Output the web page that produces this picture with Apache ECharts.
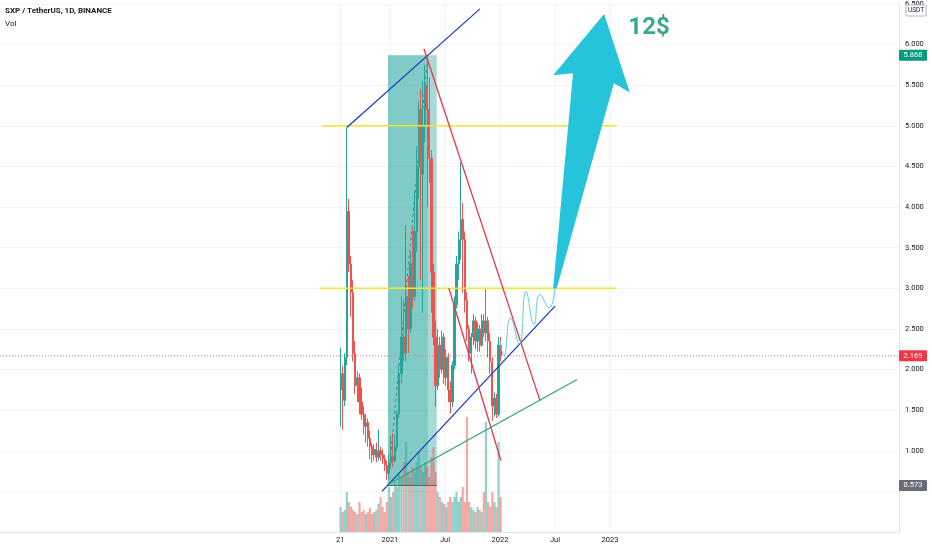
<!DOCTYPE html>
<html><head><meta charset="utf-8">
<script src="https://cdn.jsdelivr.net/npm/echarts@6/dist/echarts.min.js"></script>
<style>html,body{margin:0;padding:0;background:#fff}#c{width:932px;height:550px}</style>
</head><body><div id="c"></div>
<script>
// ---- data (weekly sampling) ----
const weekStart = '2020-07-20';
const opens  = [1.75,1.95,1.62,2.15,3.95,3.30,2.95,2.20,1.80,1.90,1.60,1.45,1.30,1.35,1.15,1.05,0.95,1.02,0.92,1.00,0.95,0.90,0.82,0.72,0.85,0.93,0.88,1.05,1.45,1.95,2.40,2.20,2.90,2.50,3.30,2.90,3.70,4.50,5.20,4.40,5.00,5.50,5.20,4.60,3.20,2.40,1.80,2.30,2.00,2.40,1.90,2.15,1.75,1.60,2.05,2.80,3.30,3.60,3.85,3.60,2.85,2.50,2.20,2.40,2.60,2.35,2.50,2.30,2.60,2.45,2.60,2.35,2.10,1.55,1.65,1.45,2.30];
const closes = [1.95,1.62,2.15,3.95,3.30,2.95,2.20,1.80,1.90,1.60,1.45,1.30,1.35,1.15,1.05,0.95,1.02,0.92,1.00,0.95,0.90,0.82,0.72,0.85,0.93,0.88,1.05,1.45,1.95,2.40,2.20,2.90,2.50,3.30,2.90,3.70,4.50,5.20,4.40,5.00,5.50,5.20,4.60,3.20,2.40,1.80,2.30,2.00,2.40,1.90,2.15,1.75,1.60,2.05,2.80,3.30,3.60,3.85,3.60,2.85,2.50,2.20,2.40,2.60,2.35,2.50,2.30,2.60,2.45,2.60,2.35,2.10,1.55,1.65,1.45,2.30,2.169];
const lows   = [1.30,1.26,1.55,2.05,3.20,2.65,2.10,1.70,1.60,1.45,1.38,1.20,1.10,1.05,0.90,0.85,0.88,0.86,0.88,0.88,0.84,0.75,0.64,0.66,0.78,0.80,0.85,1.00,1.40,1.83,2.10,2.10,2.20,2.45,2.75,2.85,3.45,4.10,3.10,2.70,4.80,4.00,4.30,2.70,2.30,1.54,1.75,1.90,1.95,1.82,1.80,1.60,1.46,1.54,2.00,2.75,3.10,3.35,2.95,2.70,2.35,2.10,1.95,2.30,2.25,2.22,2.22,2.28,2.40,2.35,2.15,1.95,1.37,1.42,1.40,1.42,2.10];
const highs  = [2.27,2.05,2.20,4.98,4.10,3.40,3.10,2.35,1.98,1.95,1.78,1.55,1.45,1.40,1.25,1.10,1.08,1.10,1.26,1.05,1.02,0.95,0.88,0.95,1.18,1.22,1.20,1.50,2.05,2.90,2.85,3.78,3.15,3.45,3.75,4.20,4.75,5.30,5.45,5.55,5.75,5.868,5.60,4.70,3.30,2.60,2.50,2.40,2.48,2.45,2.25,2.20,1.85,2.10,2.90,3.40,3.70,4.55,4.05,3.70,2.95,2.55,2.45,2.68,2.65,2.58,2.55,2.68,2.68,3.00,2.65,2.45,2.15,1.72,1.70,2.40,2.40];
const volumes = [25,20,22,40,30,25,22,20,18,30,20,22,18,20,24,18,20,22,28,35,25,20,30,45,35,40,50,45,60,55,70,90,60,55,65,60,70,80,65,60,70,65,55,75,85,60,40,35,30,28,25,30,35,30,35,40,30,35,45,30,115,30,25,22,20,25,22,20,40,110,30,25,40,30,25,90,35];
const lastPrice = 2.169;
const rangeLow = 0.573, rangeHigh = 5.868;
const timeTicks = [['2020-07-19','21'],['2021-01-01','2021'],['2021-07-01','Jul'],['2022-01-01','2022'],['2022-07-01','Jul'],['2023-01-01','2023']];

// drawings (date, price)
const blueTop   = [['2020-08-10',4.98],['2021-10-26',6.44]];
const yellow5   = [['2020-05-18',5.0],['2023-01-24',5.0]];
const yellow3   = [['2020-05-12',3.0],['2023-01-24',3.0]];
const redLong   = [['2021-04-22',5.95],['2022-05-12',1.62]];
const redShort  = [['2021-07-14',3.0],['2022-01-04',0.88]];
const blueLow   = [['2020-12-05',0.50],['2022-07-01',2.78]];
const greenLine = [['2020-12-25',0.585],['2022-09-13',1.878]];
const wave = [['2022-01-01',2.354],['2022-01-14',2.171],['2022-02-05',2.638],['2022-03-04',2.313],['2022-03-27',2.963],['2022-04-22',2.557],['2022-05-12',2.923],['2022-06-12',2.760],['2022-07-01',3.004]];
const arrow = [['2022-06-25',3.0],['2022-08-31',5.646],['2022-06-25',5.622],['2022-12-12',6.378],['2023-03-06',5.411],['2023-01-14',5.524],['2022-07-07',3.0]];
const rangeStart = '2020-12-25', rangeMid = '2021-05-05', rangeEnd = '2021-06-04';
const targetText = ['2023-05-09', 6.207, '12$'];

// ---- helpers ----
const MS = 86400000;
function toM(s){const d=new Date(s+'T00:00:00Z');const y=d.getUTCFullYear(),mo=d.getUTCMonth(),day=d.getUTCDate();const dim=new Date(Date.UTC(y,mo+1,0)).getUTCDate();return (y-2020)*12+mo+(day-1)/dim;}
function ymd(t){return new Date(t).toISOString().slice(0,10);}
const dates = opens.map((_,k)=>ymd(Date.parse(weekStart+'T00:00:00Z')+k*7*MS));
const candleData = dates.map((d,k)=>[toM(d),opens[k],closes[k],lows[k],highs[k]]);
const volData = dates.map((d,k)=>({value:[toM(d),volumes[k]],itemStyle:{color:closes[k]>=opens[k]?'rgba(38,166,154,0.5)':'rgba(239,83,80,0.5)'}}));
const pts = a=>a.map(p=>[toM(p[0]),p[1]]);
function seg(data,color,width,extra){return Object.assign({type:'line',data,symbol:'none',silent:true,lineStyle:{color,width},z:4,clip:false},extra||{});}
const tickM = timeTicks.map(t=>toM(t[0]));
function timeLabel(v){for(const t of timeTicks){if(Math.abs(toM(t[0])-v)<0.01)return t[1];}return '';}
const rects = [
  [toM(rangeStart),rangeLow,toM(rangeEnd),rangeHigh,'rgba(38,166,154,0.40)'],
  [toM(rangeStart),rangeLow,toM(rangeMid),rangeHigh,'rgba(38,166,154,0.30)']
];

const X_MIN=-30.55, X_MAX=67.53;
const FONT='Roboto';
const chart = echarts.init(document.getElementById('c'));
const option = {
  animation:false,
  backgroundColor:'#ffffff',
  grid:[{left:0,right:33,top:0,bottom:18},{left:0,right:33,bottom:18,height:120}],
  xAxis:[
    {type:'value',gridIndex:0,min:X_MIN,max:X_MAX,axisLine:{show:true,onZero:false,lineStyle:{color:'#e0e3eb'}},axisTick:{show:false},splitLine:{show:false},
     axisLabel:{customValues:tickM,formatter:timeLabel,color:'#131722',fontSize:7.5,margin:4,fontFamily:FONT}},
    {type:'value',gridIndex:1,min:X_MIN,max:X_MAX,show:false}
  ],
  yAxis:[
    {type:'value',gridIndex:0,position:'right',min:0,max:6.5,interval:0.5,axisLine:{show:true,onZero:false,lineStyle:{color:'#e0e3eb'}},axisTick:{show:false},
     splitLine:{show:true,lineStyle:{color:'#f0f3fa'}},
     axisLabel:{formatter:v=>v<0.75?'':v.toFixed(3),color:'#131722',fontSize:7.5,margin:6,fontFamily:FONT}},
    {type:'value',gridIndex:1,min:0,max:120,show:false}
  ],
  series:[
    {type:'custom',silent:true,z:1,data:rects.map((r,i)=>i),clip:false,
     renderItem:(params,api)=>{const r=rects[params.dataIndex];const a=api.coord([r[0],r[3]]),b=api.coord([r[2],r[1]]);
       return {type:'rect',shape:{x:a[0],y:a[1],width:b[0]-a[0],height:b[1]-a[1]},style:{fill:r[4]}};}},
    {type:'custom',silent:true,z:0,data:tickM,
     renderItem:(params,api)=>{const p=api.coord([tickM[params.dataIndex],0]);const t=api.coord([tickM[params.dataIndex],6.5]);
       return {type:'line',shape:{x1:p[0],y1:p[1],x2:t[0],y2:t[1]},style:{stroke:'#eef0f5',lineWidth:1}};}},
    {type:'bar',xAxisIndex:1,yAxisIndex:1,data:volData,barWidth:2.2,silent:true,z:2},
    {type:'candlestick',data:candleData,encode:{x:0,y:[1,2,3,4]},barWidth:1.7,silent:true,z:3,
     itemStyle:{color:'#26a69a',color0:'#ef5350',borderColor:'#26a69a',borderColor0:'#ef5350',borderWidth:1}},
    seg([[X_MIN,lastPrice],[X_MAX,lastPrice]],'#f23645',1,{z:2,lineStyle:{color:'#f4737f',width:1,type:[1,2]}}),
    seg(pts([[rangeStart,rangeLow],[rangeEnd,rangeLow]]),'#5d606b',1,{z:3}),
    seg(pts([[rangeStart,rangeLow],[rangeMid,rangeHigh]]),'#5d606b',1,{z:3,lineStyle:{color:'#5d606b',width:1,type:[3,3],opacity:0.8}}),
    seg(pts(yellow5),'#f5e52b',1.5),
    seg(pts(yellow3),'#f5e52b',1.5),
    seg(pts(blueTop),'#1c3fc4',1.3),
    seg(pts(blueLow),'#1c3fc4',1.3),
    seg(pts(redLong),'#e8364a',1.3),
    seg(pts(redShort),'#e8364a',1.3),
    seg(pts(greenLine),'#2ea67e',1.3),
    seg(pts(wave),'#5ccfdf',1,{smooth:0.5}),
    {type:'custom',silent:true,z:6,data:[0],clip:false,
     renderItem:(params,api)=>({type:'polygon',shape:{points:arrow.map(p=>api.coord([toM(p[0]),p[1]]))},style:{fill:'#26c4da'}})},
    {type:'scatter',silent:true,z:7,symbolSize:0,data:[[toM(targetText[0]),targetText[1]]],
     label:{show:true,position:'inside',formatter:targetText[2],color:'#07916f',fontSize:24,fontWeight:'bold',fontFamily:FONT}}
  ]
};
chart.setOption(option);

function axisBox(price,bg,text){
  const y=chart.convertToPixel({yAxisIndex:0},price);
  return [
    {type:'rect',z:100,shape:{x:899,y:y-5.5,width:28,height:11,r:1},style:{fill:bg}},
    {type:'text',z:101,style:{x:913,y:y,text:text,fill:'#ffffff',font:'7.5px '+FONT,align:'center',verticalAlign:'middle'}}
  ];
}
const g = [].concat(
  axisBox(rangeHigh,'#089981',rangeHigh.toFixed(3)),
  axisBox(lastPrice,'#f23645',lastPrice.toFixed(3)),
  axisBox(rangeLow,'#6a6d78',rangeLow.toFixed(3)),
  [
    {type:'rect',z:100,shape:{x:906,y:5,width:20,height:11,r:1},style:{fill:'#ffffff',stroke:'#b2b5be',lineWidth:1}},
    {type:'text',z:101,style:{x:916,y:10.5,text:'USDT',fill:'#131722',font:'6.5px '+FONT,align:'center',verticalAlign:'middle'}},
    {type:'text',z:101,style:{x:5,y:11,text:'SXP / TetherUS, 1D, BINANCE',fill:'#131722',font:'bold 8px '+FONT,verticalAlign:'middle'}},
    {type:'text',z:101,style:{x:5,y:24,text:'Vol',fill:'#131722',font:'8px '+FONT,verticalAlign:'middle'}}
  ]
);
chart.setOption({graphic:g});
</script></body></html>
